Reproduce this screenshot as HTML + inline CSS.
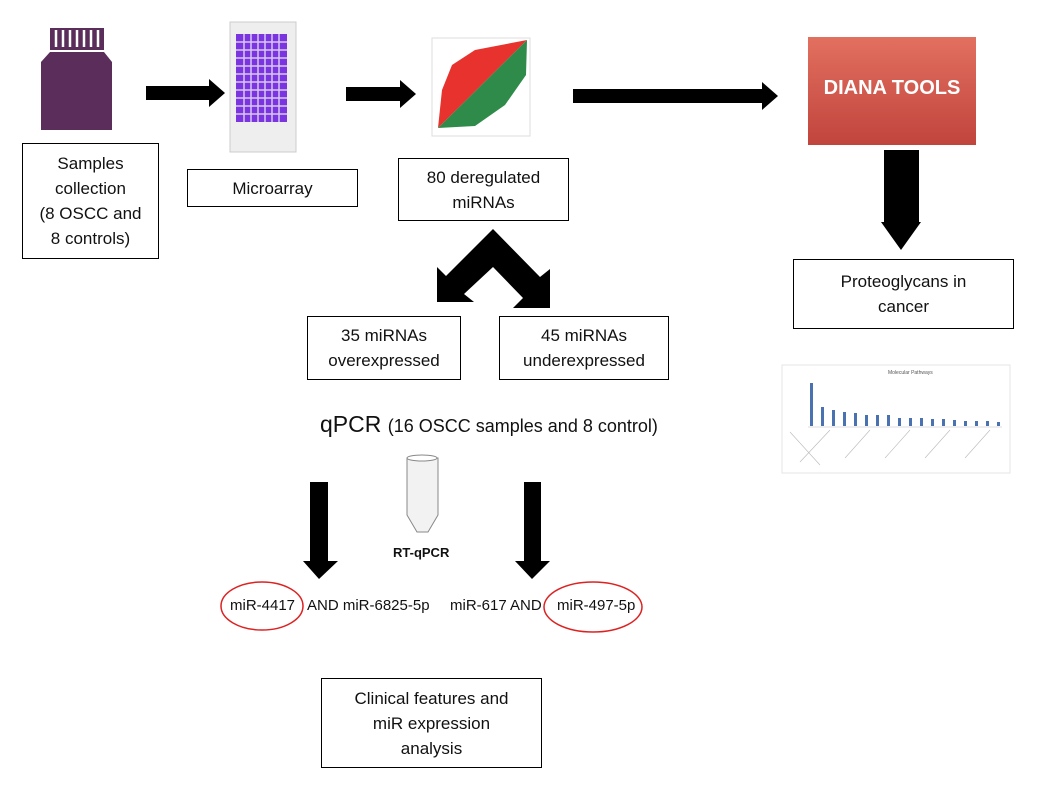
<!DOCTYPE html>
<html><head><meta charset="utf-8"><style>
body{margin:0;width:1051px;height:790px;background:#fff;position:relative;overflow:hidden;font-family:"Liberation Sans",sans-serif;color:#111}
.b{position:absolute;border:1.5px solid #000;box-sizing:border-box;display:flex;align-items:center;justify-content:center;text-align:center;font-size:17px;line-height:25px}
.t{position:absolute;white-space:nowrap}
</style></head><body>
<svg width="1051" height="790" style="position:absolute;left:0;top:0">
<!-- bottle -->
<g fill="#5a2d5a">
<rect x="50" y="28" width="54" height="22"/>
<path d="M50 52 H104 L112 62 V130 H41 V62 Z"/>
</g>
<g stroke="#fff" stroke-width="2.5"><line x1="56" y1="30" x2="56" y2="47"/><line x1="63" y1="30" x2="63" y2="47"/><line x1="70" y1="30" x2="70" y2="47"/><line x1="77" y1="30" x2="77" y2="47"/><line x1="84" y1="30" x2="84" y2="47"/><line x1="91" y1="30" x2="91" y2="47"/><line x1="98" y1="30" x2="98" y2="47"/></g>
<!-- microarray -->
<rect x="230" y="22" width="66" height="130" fill="#eee" stroke="#ccc"/>
<rect x="236" y="34" width="51" height="88" fill="#7b35e0"/>
<g stroke="#d8c8f0" stroke-width="1.5">
<line x1="236" y1="42" x2="287" y2="42"/><line x1="236" y1="50" x2="287" y2="50"/><line x1="236" y1="58" x2="287" y2="58"/><line x1="236" y1="66" x2="287" y2="66"/><line x1="236" y1="74" x2="287" y2="74"/><line x1="236" y1="82" x2="287" y2="82"/><line x1="236" y1="90" x2="287" y2="90"/><line x1="236" y1="98" x2="287" y2="98"/><line x1="236" y1="106" x2="287" y2="106"/><line x1="236" y1="114" x2="287" y2="114"/>
<line x1="244" y1="34" x2="244" y2="122"/><line x1="251" y1="34" x2="251" y2="122"/><line x1="258" y1="34" x2="258" y2="122"/><line x1="265" y1="34" x2="265" y2="122"/><line x1="272" y1="34" x2="272" y2="122"/><line x1="279" y1="34" x2="279" y2="122"/>
</g>
<!-- scatter -->
<rect x="432" y="38" width="98" height="98" fill="#fff" stroke="#ddd"/>
<polygon points="438,128 442,90 452,65 475,50 527,40" fill="#e8322e"/>
<polygon points="438,128 527,40 526,75 505,105 475,126" fill="#2e8b4a"/>
<!-- arrows right -->
<polygon points="146,86 209,86 209,79 225,93 209,107 209,100 146,100"/>
<polygon points="346,87 400,87 400,80 416,94 400,108 400,101 346,101"/>
<polygon points="573,89 762,89 762,82 778,96 762,110 762,103 573,103"/>
<!-- DIANA down -->
<polygon points="884,150 919,150 919,222 921,222 901,250 881,222 884,222"/>
<!-- chevron -->
<polygon points="493,229 540,277 550,269 550,308 513,308 523,298 493,267 464,294 474,302 437,302 437,267 446,276"/>
<!-- qPCR down arrows -->
<polygon points="310,482 328,482 328,561 338,561 319,579 303,561 310,561"/>
<polygon points="524,482 541,482 541,561 550,561 532,579 515,561 524,561"/>
<!-- tube -->
<path d="M407 458 H438 V515 L428 532 H417 L407 515 Z" fill="#f2f2f2" stroke="#888"/>
<ellipse cx="422" cy="458" rx="15" ry="3" fill="#fff" stroke="#888"/>
<!-- ellipses -->
<ellipse cx="262" cy="606" rx="41" ry="24" fill="none" stroke="#d22" stroke-width="1.5"/>
<ellipse cx="593" cy="607" rx="49" ry="25" fill="none" stroke="#d22" stroke-width="1.5"/>
<!-- chart -->
<rect x="782" y="365" width="228" height="108" fill="#fff" stroke="#e4e4e4"/>
<text x="888" y="374" font-size="5" fill="#555" font-family="Liberation Sans">Molecular Pathways</text>
<g fill="#4a72b0">
<rect x="810" y="383" width="3" height="43"/><rect x="821" y="407" width="3" height="19"/><rect x="832" y="410" width="3" height="16"/><rect x="843" y="412" width="3" height="14"/><rect x="854" y="413" width="3" height="13"/><rect x="865" y="415" width="3" height="11"/><rect x="876" y="415" width="3" height="11"/><rect x="887" y="415" width="3" height="11"/><rect x="898" y="418" width="3" height="8"/><rect x="909" y="418" width="3" height="8"/><rect x="920" y="418" width="3" height="8"/><rect x="931" y="419" width="3" height="7"/><rect x="942" y="419" width="3" height="7"/><rect x="953" y="420" width="3" height="6"/><rect x="964" y="421" width="3" height="5"/><rect x="975" y="421" width="3" height="5"/><rect x="986" y="421" width="3" height="5"/><rect x="997" y="422" width="3" height="4"/>
</g>
<g stroke="#bbb" stroke-width="0.6"><line x1="808" y1="427" x2="1002" y2="427"/><line x1="790" y1="432" x2="820" y2="465"/><line x1="830" y1="430" x2="800" y2="462"/><line x1="870" y1="430" x2="845" y2="458"/><line x1="910" y1="430" x2="885" y2="458"/><line x1="950" y1="430" x2="925" y2="458"/><line x1="990" y1="430" x2="965" y2="458"/></g>
</svg>
<div style="position:absolute;left:808px;top:37px;width:168px;height:108px;background:linear-gradient(#e2705f,#c1443d)"></div>
<div class="t" style="left:808px;top:77px;width:168px;text-align:center;color:#fff;font-weight:bold;font-size:20px">DIANA TOOLS</div>

<div class="b" style="left:22px;top:143px;width:137px;height:116px">Samples<br>collection<br>(8 OSCC and<br>8 controls)</div>
<div class="b" style="left:187px;top:169px;width:171px;height:38px">Microarray</div>
<div class="b" style="left:398px;top:158px;width:171px;height:63px">80 deregulated<br>miRNAs</div>
<div class="b" style="left:307px;top:316px;width:154px;height:64px">35 miRNAs<br>overexpressed</div>
<div class="b" style="left:499px;top:316px;width:170px;height:64px">45 miRNAs<br>underexpressed</div>
<div class="b" style="left:793px;top:259px;width:221px;height:70px">Proteoglycans in<br>cancer</div>
<div class="b" style="left:321px;top:678px;width:221px;height:90px">Clinical features and<br>miR expression<br>analysis</div>

<div class="t" style="left:320px;top:411px;font-size:23px">qPCR <span style="font-size:18px">(16 OSCC samples and 8 control)</span></div>
<div class="t" style="left:393px;top:545px;font-size:13px;font-weight:bold">RT-qPCR</div>
<div class="t" style="left:230px;top:597px;font-size:15px">miR-4417</div>
<div class="t" style="left:307px;top:597px;font-size:15px">AND miR-6825-5p</div>
<div class="t" style="left:450px;top:597px;font-size:15px">miR-617 AND</div>
<div class="t" style="left:557px;top:597px;font-size:15px">miR-497-5p</div>
</body></html>
